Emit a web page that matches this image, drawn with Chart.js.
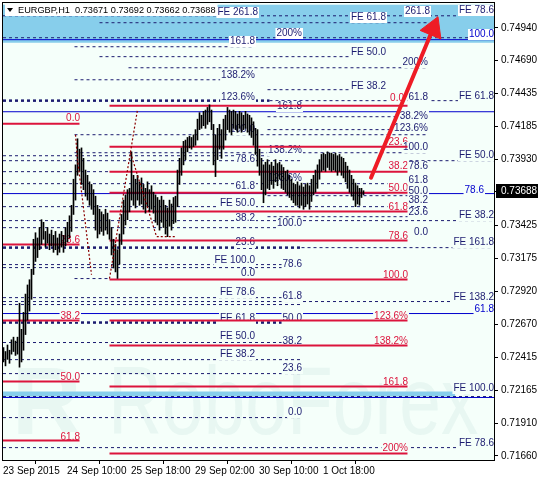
<!DOCTYPE html>
<html><head><meta charset="utf-8">
<script src="https://cdn.jsdelivr.net/npm/chart.js@4.4.0/dist/chart.umd.min.js"></script>
<style>html,body{margin:0;padding:0;background:#fff;}</style>
</head><body>
<canvas id="c" width="538" height="479"></canvas>
<script>
// ---------------- data ----------------
const symbolName = 'EURGBP,H1';
const lastOHLC = [0.73671, 0.73692, 0.73662, 0.73688];

const highs = [
0.7249,0.7246,0.7251,0.7247,0.7255,0.7257,0.7254,0.7257,0.7283,0.7263,
0.7276,0.7290,0.7297,0.7301,0.7309,0.7332,0.7337,0.7333,0.7341,0.7347,
0.7345,0.7338,0.7341,0.7336,0.7339,0.7335,0.7338,0.7333,0.7336,0.7338,
0.7335,0.7341,0.7345,0.7350,0.7358,0.7378,0.7389,0.7409,0.7401,0.7402,
0.7394,0.7385,0.7381,0.7376,0.7374,0.7370,0.7365,0.7358,0.7355,0.7353,
0.7351,0.7355,0.7352,0.7347,0.7341,0.7332,0.7328,0.7324,0.7336,0.7351,
0.7362,0.7366,0.7370,0.7371,0.7399,0.7381,0.7378,0.7381,0.7376,0.7379,
0.7374,0.7371,0.7376,0.7370,0.7373,0.7368,0.7366,0.7364,0.7362,0.7365,
0.7362,0.7358,0.7356,0.7362,0.7359,0.7364,0.7365,0.7385,0.7394,0.7402,
0.7407,0.7408,0.7410,0.7411,0.7410,0.7412,0.7416,0.7424,0.7429,0.7427,
0.7430,0.7431,0.7433,0.7435,0.7431,0.7420,0.7412,0.7417,0.7420,0.7416,
0.7424,0.7427,0.7433,0.7431,0.7430,0.7431,0.7430,0.7428,0.7430,0.7429,
0.7427,0.7430,0.7428,0.7427,0.7425,0.7422,0.7417,0.7416,0.7401,0.7394,
0.7389,0.7391,0.7393,0.7389,0.7391,0.7388,0.7393,0.7390,0.7391,0.7389,
0.7387,0.7384,0.7385,0.7381,0.7378,0.7375,0.7374,0.7376,0.7373,0.7375,
0.7372,0.7374,0.7375,0.7373,0.7378,0.7381,0.7385,0.7389,0.7393,0.7397,
0.7398,0.7397,0.7399,0.7398,0.7398,0.7397,0.7398,0.7396,0.7397,0.7395,
0.7394,0.7391,0.7388,0.7385,0.7381,0.7378,0.7375,0.7373,0.7371,0.7371,
0.73692];
const lows = [
0.7238,0.7235,0.7240,0.7237,0.7244,0.7246,0.7243,0.7244,0.7234,0.7238,
0.7247,0.7259,0.7270,0.7277,0.7286,0.7305,0.7315,0.7318,0.7324,0.7328,
0.7332,0.7326,0.7329,0.7324,0.7327,0.7322,0.7324,0.7320,0.7322,0.7326,
0.7322,0.7327,0.7330,0.7333,0.7338,0.7351,0.7362,0.7381,0.7384,0.7374,
0.7370,0.7365,0.7362,0.7358,0.7355,0.7351,0.7339,0.7333,0.7336,0.7338,
0.7335,0.7339,0.7336,0.7332,0.7320,0.7310,0.7307,0.7302,0.7313,0.7328,
0.7336,0.7343,0.7347,0.7353,0.7362,0.7358,0.7356,0.7362,0.7358,0.7359,
0.7355,0.7352,0.7357,0.7353,0.7355,0.7352,0.7345,0.7343,0.7339,0.7345,
0.7341,0.7336,0.7334,0.7342,0.7339,0.7344,0.7345,0.7357,0.7374,0.7381,
0.7389,0.7393,0.7399,0.7402,0.7401,0.7403,0.7404,0.7408,0.7416,0.7417,
0.7419,0.7417,0.7420,0.7422,0.7416,0.7389,0.7380,0.7393,0.7401,0.7394,
0.7401,0.7408,0.7416,0.7414,0.7412,0.7417,0.7416,0.7414,0.7417,0.7414,
0.7416,0.7417,0.7414,0.7412,0.7410,0.7404,0.7397,0.7388,0.7381,0.7370,
0.7360,0.7366,0.7371,0.7370,0.7374,0.7371,0.7376,0.7373,0.7378,0.7371,
0.7370,0.7368,0.7366,0.7364,0.7362,0.7360,0.7358,0.7358,0.7356,0.7358,
0.7355,0.7357,0.7359,0.7355,0.7361,0.7366,0.7368,0.7371,0.7378,0.7384,
0.7385,0.7384,0.7387,0.7385,0.7384,0.7385,0.7384,0.7381,0.7384,0.7381,
0.7379,0.7376,0.7371,0.7368,0.7365,0.7362,0.7357,0.7359,0.7358,0.7364,
0.73662];

const xTickIdx = [-0.25, 31.75, 63.75, 95.75, 127.75, 159.75];
const xTickLabels = ['23 Sep 2015','24 Sep 10:00','25 Sep 18:00','29 Sep 02:00','30 Sep 10:00','1 Oct 18:00'];
const yTickValues = [0.74940,0.74690,0.74435,0.74185,0.73930,0.73425,0.73175,0.72920,0.72670,0.72415,0.72165,0.71910,0.71660];

// [top price, bottom price, from bar, to bar]
const bands = [[0.75117,0.74826,-0.25,245.25],[0.72153,0.72115,-0.25,225.75]];
// [price, from bar, to bar]
const dashLevels = [
[0.75032,-0.25,227],[0.74979,48,213],[0.74864,-0.25,245.25],[0.74795,35.5,125.5],
[0.74719,48,190.5],[0.74634,62.5,212],[0.74542,35.5,125.5],[0.74466,132,190.5],
[0.74382,133,245.25],[0.74259,132,212],[0.74160,132,212],[0.74121,35.5,212],
[0.73983,35.5,212],[0.73960,-0.25,133],[0.73922,-0.25,149],[0.73922,203,245.25],
[0.73838,-0.25,53],[0.73746,-0.25,212],[0.73654,132,212],[0.73570,-0.25,212],
[0.73493,132,212],[0.73463,-0.25,245.25],[0.73409,-0.25,149],[0.73256,149,245.25],
[0.73126,-0.25,149],[0.73103,-0.25,149],[0.73019,35.5,53],[0.72873,-0.25,149],
[0.72843,-0.25,245.25],[0.72820,-0.25,149],[0.72529,-0.25,149],[0.72398,-0.25,149],
[0.72291,-0.25,149],[0.72115,-0.25,245.25],[0.71954,-0.25,149],[0.71724,-0.25,245.25]];
const heavyDashLevels = [[0.74382,-0.25,133],[0.73256,-0.25,149],[0.72682,-0.25,149]];
const blueLevels = [0.74849, 0.74297, 0.73670, 0.72751, 0.72108];
const redLevels = [
[0.74343,53,202],[0.74205,-0.25,38],[0.74029,53,202],[0.73838,53,202],
[0.73677,53,202],[0.73532,53,202],[0.73310,53,202],[0.73279,-0.25,38],
[0.73011,53,202],[0.72697,-0.25,38],[0.72697,53,202],[0.72506,53,202],
[0.72230,-0.25,38],[0.72192,53,202],[0.71778,-0.25,38],[0.71679,53,202]];
const waveLines = [
[[36,0.74121],[37,0.73929],[39.5,0.73624],[44,0.73048]],
[[53,0.73019],[67,0.74313]],
[[63.5,0.73983],[76.5,0.73341],[86.5,0.73341]]];
const arrowPath = [[183.75,0.73792],[214.75,0.74933]];
// [text, right-end bar, price, colour]
const levelLabels = [
['FE 261.8',127.25,0.75063,'n'],['FE 61.8',191.25,0.75025,'n'],['261.8',213.25,0.75071,'n'],
['FE 78.6',245.25,0.75078,'n'],['200%',149.25,0.74902,'n'],['100.0',245.25,0.74895,'b'],
['161.8',125.75,0.74841,'n'],['FE 50.0',191.25,0.74757,'n'],['200%',212.25,0.74680,'n'],
['138.2%',125.75,0.74581,'n'],['FE 38.2',191.25,0.74496,'n'],['0.0',200.25,0.74405,'r'],
['61.8',212.25,0.74412,'n'],['FE 61.8',245.25,0.74420,'n'],['123.6%',125.75,0.74412,'n'],
['0.0',38.25,0.74251,'r'],['161.8',149.25,0.74343,'n'],['38.2%',212.25,0.74267,'n'],
['123.6%',212.25,0.74175,'n'],['100.0',125.75,0.74167,'n'],['23.6',202.25,0.74068,'r'],
['100.0',212.25,0.74029,'n'],['138.2%',149.25,0.74006,'n'],['FE 50.0',245.25,0.73968,'n'],
['78.6',125.75,0.73937,'n'],['38.2',202.25,0.73884,'r'],['78.6',212.25,0.73884,'n'],
['123.6%',149.25,0.73792,'n'],['61.8',212.25,0.73777,'n'],['61.8',125.75,0.73731,'n'],
['50.0',202.25,0.73716,'r'],['50.0',212.25,0.73693,'n'],['78.6',240.25,0.73700,'b'],
['FE 50.0',125.75,0.73601,'n'],['38.2',212.25,0.73624,'n'],['61.8',202.25,0.73570,'r'],
['23.6',212.25,0.73532,'n'],['FE 38.2',245.25,0.73509,'n'],['38.2',125.75,0.73486,'n'],
['100.0',149.25,0.73447,'n'],['0.0',212.25,0.73379,'n'],['78.6',202.25,0.73348,'r'],
['23.6',38.25,0.73317,'r'],['23.6',125.75,0.73302,'n'],['FE 161.8',245.25,0.73302,'n'],
['FE 100.0',125.75,0.73164,'n'],['78.6',149.25,0.73134,'n'],['0.0',125.75,0.73065,'n'],
['100.0',202.25,0.73049,'r'],['FE 78.6',125.75,0.72919,'n'],['61.8',149.25,0.72888,'n'],
['FE 138.2',245.25,0.72881,'n'],['61.8',245.25,0.72789,'b'],['FE 61.8',125.75,0.72720,'n'],
['38.2',38.25,0.72735,'r'],['50.0',149.25,0.72720,'n'],['123.6%',202.25,0.72735,'r'],
['FE 50.0',125.75,0.72582,'n'],['38.2',149.25,0.72544,'n'],['138.2%',202.25,0.72544,'r'],
['FE 38.2',125.75,0.72444,'n'],['23.6',149.25,0.72330,'n'],['50.0',38.25,0.72268,'r'],
['161.8',202.25,0.72230,'r'],['FE 100.0',245.25,0.72184,'n'],['0.0',149.25,0.72000,'n'],
['61.8',38.25,0.71809,'r'],['200%',202.25,0.71724,'r'],['FE 78.6',245.25,0.71763,'n']];

// ---------------- style ----------------
const X_MIN = -0.25, X_MAX = 245.25, Y_MIN = 0.71629, Y_MAX = 0.75130;
const PLOT_BG = '#f5fffa', NAVY = '#1c1c70', RED = '#dc143c', BLUE = '#0000cd';
const TEXT_COL = {n: NAVY, r: RED, b: BLUE};
const FONT = '"Liberation Sans", Arial, sans-serif';

const ds = [];
const hline = (p, a, b) => [{x:a, y:p}, {x:b, y:p}];
bands.forEach(b => ds.push({type:'line', data:hline(b[0], b[2], b[3]), borderColor:'rgba(0,0,0,0)', borderWidth:1,
  pointRadius:0, fill:{value:b[1]}, backgroundColor:'#87ceeb'}));
dashLevels.forEach(l => ds.push({type:'line', data:hline(l[0], l[1], l[2]), borderColor:NAVY, borderWidth:1,
  borderDash:[3,3], pointRadius:0, fill:false}));
heavyDashLevels.forEach(l => ds.push({type:'line', data:hline(l[0], l[1], l[2]), borderColor:NAVY, borderWidth:2.5,
  borderDash:[3,3], pointRadius:0, fill:false}));
blueLevels.forEach(p => ds.push({type:'line', data:hline(p, X_MIN, X_MAX), borderColor:BLUE, borderWidth:1,
  pointRadius:0, fill:false}));
const labelAfter = ds.length - 1;
redLevels.forEach(l => ds.push({type:'line', data:hline(l[0], l[1], l[2]), borderColor:RED, borderWidth:2,
  pointRadius:0, fill:false}));
ds.push({type:'bar', data:highs.map((h,i)=>({x:i, y:[lows[i], h]})), backgroundColor:'#000', borderWidth:0,
  barThickness:1, grouped:false});
waveLines.forEach(w => ds.push({type:'line', data:w.map(p=>({x:p[0], y:p[1]})), borderColor:'#8b0000', borderWidth:1.2,
  borderDash:[2,2], pointRadius:0, fill:false, tension:0}));
ds.push({type:'line', data:arrowPath.map(p=>({x:p[0], y:p[1]})), borderColor:'#ee1c25', borderWidth:4,
  pointRadius:0, fill:false, borderCapStyle:'round'});
ds.push({type:'scatter', data:[{x:arrowPath[1][0], y:arrowPath[1][1]}], pointStyle:'triangle', pointRadius:13,
  rotation:22.6, backgroundColor:'#ee1c25', borderColor:'#ee1c25', borderWidth:1, showLine:false});
ds.forEach((d,k) => { d.order = 1000 - k; });

const inBand = p => bands.some(b => p <= b[0] && p >= b[1]);

const chartPlugin = {
  id: 'mt4',
  beforeDraw(chart) {
    const {ctx, chartArea:a} = chart;
    ctx.save();
    ctx.fillStyle = '#ffffff'; ctx.fillRect(0, 0, chart.width, chart.height);
    ctx.fillStyle = PLOT_BG; ctx.fillRect(a.left, a.top, a.right - a.left, a.bottom - a.top);
    ctx.restore();
  },
  beforeDatasetsDraw(chart) {
    const {ctx, chartArea:a} = chart;
    ctx.save();
    ctx.beginPath(); ctx.rect(a.left, a.top, a.right - a.left, a.bottom - a.top); ctx.clip();
    ctx.fillStyle = 'rgba(150,195,195,0.13)';
    ctx.font = 'bold 96px ' + FONT;
    ctx.textBaseline = 'alphabetic';
    ctx.fillText('R', 12, 434);
    ctx.translate(108, 434); ctx.scale(0.78, 1);
    ctx.font = '96px ' + FONT;
    ctx.fillText('RoboForex', 0, 0);
    ctx.restore();
  },
  afterDatasetDraw(chart, args) {
    if (args.index !== labelAfter) return;
    const {ctx, scales:{x, y}} = chart;
    ctx.save();
    ctx.font = '10px ' + FONT;
    ctx.textAlign = 'right'; ctx.textBaseline = 'middle';
    levelLabels.forEach(([t, xi, p, c]) => {
      const px = Math.round(x.getPixelForValue(xi)), py = Math.round(y.getPixelForValue(p));
      const w = ctx.measureText(t).width;
      ctx.fillStyle = inBand(p) ? '#ffffff' : PLOT_BG;
      ctx.fillRect(px - w - 1, py - 5, w + 2, 11);
      ctx.fillStyle = TEXT_COL[c];
      ctx.fillText(t, px, py + 0.5);
    });
    ctx.restore();
  },
  afterDraw(chart) {
    const {ctx, chartArea:a, scales:{y}} = chart;
    ctx.save();
    // frame
    ctx.strokeStyle = '#000'; ctx.lineWidth = 1;
    ctx.strokeRect(a.left - 0.5, a.top - 0.5, a.right - a.left + 1, a.bottom - a.top + 1);
    // title
    const title = symbolName + '  ' + lastOHLC.map(v => v.toFixed(5)).join(' ');
    ctx.font = '9.2px ' + FONT;
    const tw = ctx.measureText(title).width;
    ctx.fillStyle = '#fff'; ctx.fillRect(5, 4, tw + 15, 12);
    ctx.fillStyle = '#000';
    ctx.beginPath(); ctx.moveTo(7, 8); ctx.lineTo(13, 8); ctx.lineTo(10, 12); ctx.closePath(); ctx.fill();
    ctx.textBaseline = 'middle'; ctx.textAlign = 'left';
    ctx.fillText(title, 18, 10.5);
    // current price tag
    const py = Math.round(y.getPixelForValue(lastOHLC[3]));
    ctx.fillStyle = '#000'; ctx.fillRect(496, py - 7, 42, 14);
    ctx.fillRect(494, py, 4, 1);
    ctx.fillStyle = '#fff'; ctx.font = '10px ' + FONT;
    ctx.fillText(lastOHLC[3].toFixed(5), 501, py + 0.5);
    ctx.restore();
  }
};

new Chart(document.getElementById('c'), {
  type: 'line',
  data: { datasets: ds },
  options: {
    responsive: false, animation: false, devicePixelRatio: 1,
    layout: { autoPadding: false, padding: {left:3, top:3, right:0, bottom:0} },
    plugins: { legend:{display:false}, tooltip:{enabled:false} },
    scales: {
      x: { type:'linear', min:X_MIN, max:X_MAX, offset:false,
        grid:{drawOnChartArea:false, drawTicks:true, tickLength:4, color:'#000'},
        border:{display:false},
        afterBuildTicks: s => { s.ticks = xTickIdx.map(v => ({value:v})); },
        afterFit: s => { s.height = 19; s.paddingLeft = 0; s.paddingRight = 0; },
        ticks:{ autoSkip:false, maxRotation:0, minRotation:0, align:'start', padding:1, color:'#000',
          font:{family:FONT, size:10}, callback:(v,i) => xTickLabels[i] } },
      y: { type:'linear', position:'right', min:Y_MIN, max:Y_MAX,
        grid:{drawOnChartArea:false, drawTicks:true, tickLength:4, color:'#000'},
        border:{display:false},
        afterBuildTicks: s => { s.ticks = yTickValues.map(v => ({value:v})); },
        afterFit: s => { s.width = 44; s.paddingTop = 0; s.paddingBottom = 0; },
        ticks:{ padding:3, color:'#000', font:{family:FONT, size:10}, callback: v => v.toFixed(5) } }
    }
  },
  plugins: [chartPlugin]
});
</script>
</body></html>
